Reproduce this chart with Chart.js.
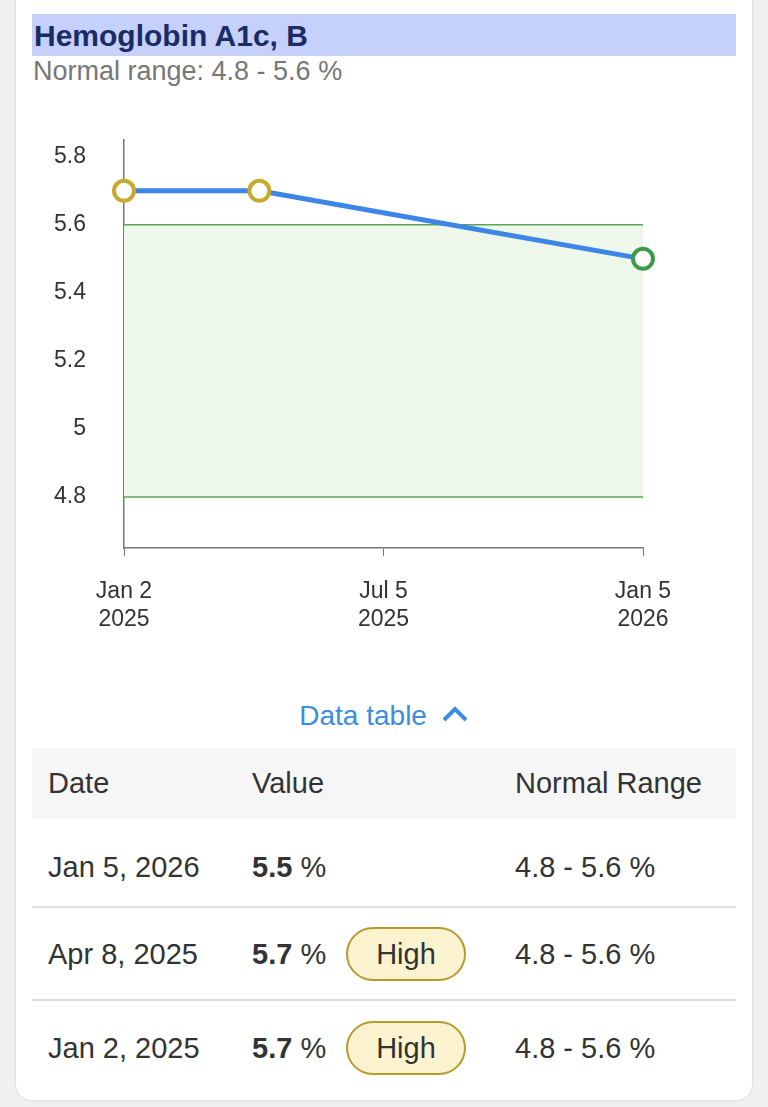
<!DOCTYPE html>
<html><head><meta charset="utf-8">
<script src="https://cdn.jsdelivr.net/npm/chart.js@4/dist/chart.umd.min.js"></script>
<style>
body{margin:0;background:#f0f0f3;font-family:"Liberation Sans",Arial,sans-serif;width:768px;height:1107px;overflow:hidden;position:relative}
#card{position:absolute;left:16px;top:-20px;width:736px;height:1120px;background:#fff;border-radius:16px;box-shadow:0 0 3px rgba(0,0,0,.15)}
#title{position:absolute;left:32px;top:14px;width:704px;height:42px;background:#c5d1fb;color:#1b2b66;font-weight:bold;font-size:30px;line-height:44px;box-sizing:border-box;padding-left:2px}
#sub{position:absolute;left:33px;top:56px;font-size:27px;color:#777}
#cw{position:absolute;left:0;top:96px;width:768px;height:554px}
#dt{position:absolute;left:0;width:768px;text-align:center;top:700px;font-size:28px;color:#3a8ee0}
.t{position:absolute;font-size:29px;color:#333}
.hdr{position:absolute;left:32px;top:748px;width:704px;height:70px;background:#f6f6f6}
.sep{position:absolute;left:32px;width:704px;height:2px;background:#ddd}
.badge{position:absolute;left:346px;width:120px;height:54px;border:2px solid #b69a2c;background:#fbf3cf;border-radius:28px;box-sizing:border-box;text-align:center;line-height:50px;font-size:29px;color:#333}
</style></head><body>
<div id="card"></div>
<div id="title">Hemoglobin A1c, B</div>
<div id="sub">Normal range: 4.8 - 5.6 %</div>
<div id="cw"><canvas id="c" width="768" height="554"></canvas></div>
<div id="dt">Data table <svg width="28" height="18" viewBox="0 0 28 18" style="vertical-align:2px;margin-left:6px"><polyline points="3,15 14,4 25,15" fill="none" stroke="#3a8ee0" stroke-width="4"/></svg></div>
<div class="hdr"></div>
<div class="t" style="left:48px;top:767px">Date</div>
<div class="t" style="left:252px;top:767px">Value</div>
<div class="t" style="left:515px;top:767px">Normal Range</div>
<div class="t" style="left:48px;top:851px">Jan 5, 2026</div>
<div class="t" style="left:252px;top:851px"><b>5.5</b> %</div>
<div class="t" style="left:515px;top:851px">4.8 - 5.6 %</div>
<div class="sep" style="top:906px"></div>
<div class="t" style="left:48px;top:938px">Apr 8, 2025</div>
<div class="t" style="left:252px;top:938px"><b>5.7</b> %</div>
<div class="badge" style="top:927px">High</div>
<div class="t" style="left:515px;top:938px">4.8 - 5.6 %</div>
<div class="sep" style="top:999px"></div>
<div class="t" style="left:48px;top:1032px">Jan 2, 2025</div>
<div class="t" style="left:252px;top:1032px"><b>5.7</b> %</div>
<div class="badge" style="top:1021px">High</div>
<div class="t" style="left:515px;top:1032px">4.8 - 5.6 %</div>
<script>
const dayOffsets=[0,96,368];        // Jan 2 2025, Apr 8 2025, Jan 5 2026
const values=[5.7,5.7,5.5];
const pointColors=["#c9a92c","#c9a92c","#3f9a48"];
const rangeLow=4.8, rangeHigh=5.6;
const xTickDays=[0,184,368];
const xTickLabels=[["Jan 2","2025"],["Jul 5","2025"],["Jan 5","2026"]];
const yTicks=[4.8,5,5.2,5.4,5.6,5.8];
new Chart(document.getElementById('c'),{
 type:'line',
 data:{datasets:[
  {data:[{x:0,y:rangeHigh},{x:368,y:rangeHigh}],borderColor:'#5aa55a',borderWidth:1.5,pointRadius:0,fill:'+1',backgroundColor:'#edf8ea',order:3},
  {data:[{x:0,y:rangeLow},{x:368,y:rangeLow}],borderColor:'#5aa55a',borderWidth:1.5,pointRadius:0,fill:false,order:2},
  {data:dayOffsets.map((d,i)=>({x:d,y:values[i]})),borderColor:'#3d85e6',borderWidth:5,pointRadius:10,pointBackgroundColor:'#fff',pointBorderColor:pointColors,pointBorderWidth:4,fill:false,order:1}
 ]},
 options:{responsive:false,animation:false,clip:false,
  layout:{padding:{top:18,right:125,left:0,bottom:0}},
  plugins:{legend:{display:false},tooltip:{enabled:false}},
  scales:{
   x:{type:'linear',min:0,max:368,
    afterBuildTicks:s=>{s.ticks=xTickDays.map(v=>({value:v}))},
    afterFit:s=>{s.height=102},
    grid:{drawOnChartArea:false,drawTicks:true,tickLength:8,color:'#777'},
    border:{color:'#777',width:1.5},
    ticks:{padding:22,color:'#333',font:{size:23,family:'Liberation Sans'},maxRotation:0,
     callback:(v)=>xTickLabels[xTickDays.indexOf(v)]}},
   y:{min:4.65,max:5.85,
    afterBuildTicks:s=>{s.ticks=yTicks.map(v=>({value:v}))},
    afterFit:s=>{s.width=124},
    grid:{display:false},
    border:{color:'#777',width:1.5},
    ticks:{padding:30,color:'#333',font:{size:23,family:'Liberation Sans'},
     callback:v=>v===5?'5':v.toFixed(1)}}
  }}
});
</script>
</body></html>
